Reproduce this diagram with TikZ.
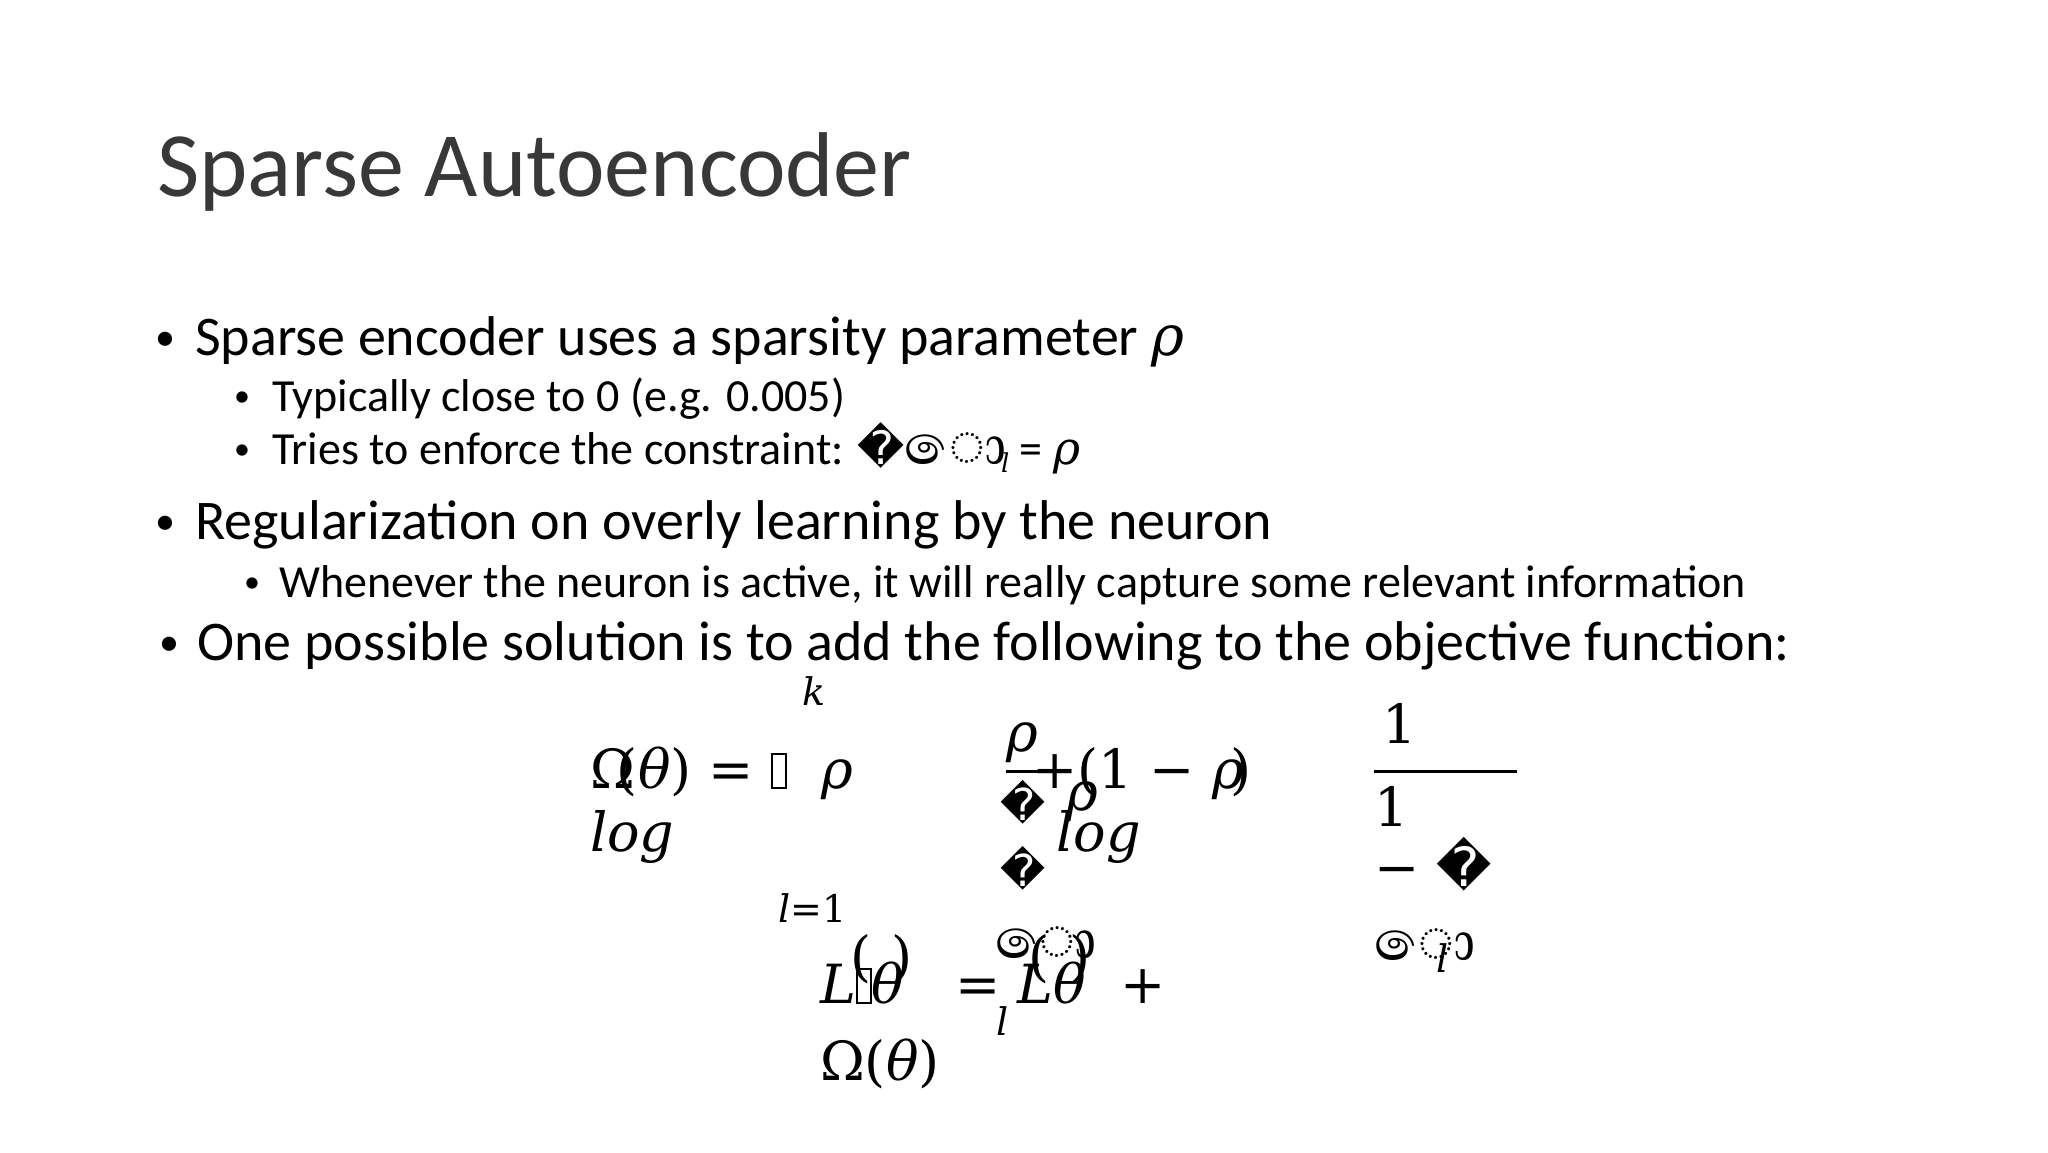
\documentclass[tikz,border=0pt]{standalone}
\usepackage{fontspec}
\setmainfont{Carlito}
\newfontfamily\mf{DejaVu Serif}
\newfontfamily\sinhf[Script=Sinhala]{Abhaya Libre}
\newfontfamily\djf{DejaVu Sans}
\begin{document}
\begin{tikzpicture}[x=1pt,y=-1pt,
  t/.style={anchor=base west,inner sep=0pt,text=black},
  bul/.style={anchor=base,inner sep=0pt},
  big/.style={font=\fontsize{56}{64}\selectfont},
  med/.style={font=\fontsize{46}{52}\selectfont},
  sml/.style={font=\fontsize{46}{52}\selectfont},
  bb/.style={font=\fontsize{40}{44}\selectfont},
  bs/.style={font=\fontsize{32}{36}\selectfont},
  mth/.style={anchor=base west,inner sep=0pt,font=\mf\fontsize{54}{60}\selectfont},
  mths/.style={anchor=base west,inner sep=0pt,font=\mf\fontsize{38}{44}\selectfont},
  snh/.style={anchor=base west,inner sep=0pt,font=\sinhf\fontsize{72}{80}\selectfont}]
\useasboundingbox (0,0) rectangle (2048,1152);
\fill[white] (0,0) rectangle (2048,1152);
\newcommand{\tofu}{\tikz[baseline=0pt,x=1pt,y=1pt]\draw[line width=1.5pt] (0,0) rectangle (14,34);}
\newcommand{\rep}{{\djf\char"FFFD}}
\node[t,font=\fontsize{92}{100}\selectfont,text=black!78] (title) at (157,196) {Sparse Autoencoder};
% bullets
\node[bul,bb] (b1) at (165,350) {•};
\node[t,big] (l1) at (195,355) {Sparse encoder uses a sparsity parameter {\mf\itshape ρ}};
\node[bul,bs] (b2) at (242,406) {•};
\node[t,med] (l2) at (272,411) {Typically close to 0 (e.g. 0.005)};
\node[bul,bs] (b3) at (242,459) {•};
\node[t,med] (l3) at (272,464) {Tries to enforce the constraint: \rep{\sinhf\fontsize{72}{80}\selectfont ො}\kern-6pt{\mf\itshape\fontsize{26}{30}\selectfont\raisebox{-8pt}{l}} = {\mf\itshape ρ}};
\node[bul,bb] (b4) at (165,534) {•};
\node[t,big] (l4) at (195,539) {Regularization on overly learning by the neuron};
\node[bul,bs] (b5) at (252,592) {•};
\node[t,sml] (l5) at (279,597) {Whenever the neuron is active, it will really capture some relevant information};
\node[bul,bb] (b6) at (169,655) {•};
\node[t,big] (l6) at (197,660) {One possible solution is to add the following to the objective function:};
% formula pieces
\node[mths] (k) at (802,705) {\itshape k};
\node[mth] (om) at (590,788) {Ω\kern-18pt(\itshape θ\upshape) = \tofu\ \ \itshape ρ};
\node[mth] (log1) at (590,851) {\itshape log};
\node[mth] (rho1) at (1006,751) {\itshape ρ};
\draw[line width=3pt] (1006,771) -- (1041,771);
\node[mth] (plus) at (1032,788) {+(1 − \itshape ρ\kern-14pt\upshape)};
\node[mth] (rho2) at (1066,810) {\itshape ρ};
\node[mth,font=\djf\fontsize{44}{48}\selectfont] (d1) at (1000,820) {\char"FFFD};
\node[mth,font=\djf\fontsize{44}{48}\selectfont] (d2) at (1000,886) {\char"FFFD};
\node[mth] (log2) at (1056,851) {\itshape log};
\node[mth] (one1) at (1382,743) {1};
\draw[line width=3pt] (1374,771) -- (1517,771);
\node[mth] (one2) at (1374,826) {1};
\node[mth] (minus) at (1374,886) {− \rep};
\node[snh] (s1) at (1374,960) {ො};
\node[mths] (sl) at (1436,972) {\itshape l};
\node[mths] (l1b) at (778,922) {\itshape l\upshape =1};
\node[snh] (s2) at (995,958) {ො};
\node[mth] (pa) at (850,975) {(\kern20pt)};
\node[mth] (pb) at (1028,975) {(\kern20pt)};
\node[mth] (eq) at (820,1003) {\itshape L\upshape\tofu\itshape θ \upshape\ \ = \itshape Lθ \upshape\ +};
\node[mths] (ll) at (996,1035) {\itshape l};
\node[mth] (om2) at (820,1080) {Ω(\itshape θ\upshape)};
\end{tikzpicture}
\end{document}
